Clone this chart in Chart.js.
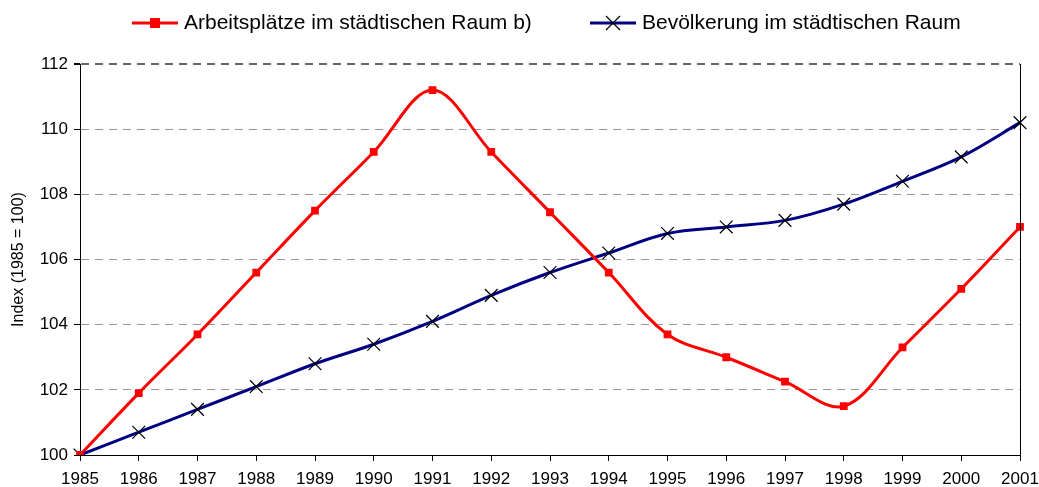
<!DOCTYPE html>
<html>
<head>
<meta charset="utf-8">
<script src="https://cdn.jsdelivr.net/npm/chart.js@4/dist/chart.umd.min.js"></script>
<style>
  html, body { margin: 0; padding: 0; background: #fff; }
  canvas { display: block; }
</style>
</head>
<body>
<canvas id="trendCanvas" width="1039" height="487"></canvas>
<script>
// Jahre und Indexwerte (1985 = 100)
const years = ["1985", "1986", "1987", "1988", "1989", "1990", "1991", "1992", "1993",
               "1994", "1995", "1996", "1997", "1998", "1999", "2000", "2001"];
const jobsUrban = [100, 101.9, 103.7, 105.6, 107.5, 109.3, 111.2, 109.3, 107.45,
                   105.6, 103.7, 103.0, 102.25, 101.5, 103.3, 105.1, 107.0];
const popUrban = [100, 100.7, 101.4, 102.1, 102.8, 103.4, 104.1, 104.9, 105.6,
                  106.2, 106.8, 107.0, 107.2, 107.7, 108.4, 109.15, 110.2];
const yTicks = [100, 102, 104, 106, 108, 110, 112];

const labelJobs = "Arbeitsplätze im städtischen Raum b)";
const labelPop = "Bevölkerung im städtischen Raum";
const FONT = "'Liberation Sans', Arial, sans-serif";

// eigene Legende oben + rechter Rahmen
const frameAndLegend = {
  id: "frameAndLegend",
  afterDraw(chart) {
    const ctx = chart.ctx;
    const a = chart.chartArea;
    ctx.save();
    ctx.strokeStyle = "#000";
    ctx.lineWidth = 1;
    ctx.beginPath();
    ctx.moveTo(Math.round(a.right) + 0.5, a.top);
    ctx.lineTo(Math.round(a.right) + 0.5, a.bottom);
    ctx.stroke();

    ctx.font = "21px " + FONT;
    ctx.textBaseline = "middle";
    ctx.fillStyle = "#000";
    const ly = 23;

    // Arbeitsplätze
    ctx.strokeStyle = "#ff0000";
    ctx.lineWidth = 3;
    ctx.beginPath(); ctx.moveTo(132, ly); ctx.lineTo(178, ly); ctx.stroke();
    ctx.fillStyle = "#ff0000";
    ctx.fillRect(150, ly - 5, 10, 10);
    ctx.fillStyle = "#000";
    ctx.fillText(labelJobs, 184, ly);

    // Bevölkerung
    ctx.strokeStyle = "#000080";
    ctx.lineWidth = 3;
    ctx.beginPath(); ctx.moveTo(590, ly); ctx.lineTo(636, ly); ctx.stroke();
    ctx.strokeStyle = "#000";
    ctx.lineWidth = 1.2;
    ctx.beginPath();
    ctx.moveTo(606, ly - 7); ctx.lineTo(620, ly + 7);
    ctx.moveTo(620, ly - 7); ctx.lineTo(606, ly + 7);
    ctx.stroke();
    ctx.fillText(labelPop, 642, ly);
    ctx.restore();
  }
};

new Chart(document.getElementById("trendCanvas").getContext("2d"), {
  type: "line",
  data: {
    labels: years,
    datasets: [{
      label: labelJobs,
      data: jobsUrban,
      borderColor: "#ff0000",
      backgroundColor: "#ff0000",
      borderWidth: 3,
      pointStyle: "rect",
      pointRadius: 5.5,
      pointBorderWidth: 0,
      tension: 0.35
    }, {
      label: labelPop,
      data: popUrban,
      borderColor: "#000080",
      backgroundColor: "#000",
      borderWidth: 3,
      pointStyle: "crossRot",
      pointRadius: 9,
      pointBorderColor: "#000",
      pointBorderWidth: 1.2,
      tension: 0.35
    }]
  },
  options: {
    responsive: false,
    animation: false,
    layout: { padding: { top: 64, right: 19, left: 0, bottom: 0 } },
    plugins: { legend: { display: false }, tooltip: { enabled: false } },
    scales: {
      x: {
        offset: false,
        afterFit(s) { s.height = 32; s.paddingLeft = 0; s.paddingRight = 0; },
        grid: { drawOnChartArea: false, drawTicks: true, tickLength: 6, color: "#000" },
        border: { color: "#000", width: 1 },
        ticks: { color: "#000", font: { family: FONT, size: 17 }, padding: 8, maxRotation: 0, autoSkip: false }
      },
      y: {
        min: 100,
        max: 112,
        afterFit(s) { s.width = 80; },
        afterBuildTicks(s) { s.ticks = yTicks.map(v => ({ value: v })); },
        grid: {
          color: (c) => c.tick && c.tick.value === 112 ? "#666" : "#999",
          lineWidth: (c) => c.tick && c.tick.value === 112 ? 2 : 1,
          drawTicks: true,
          tickLength: 6,
          tickColor: "#000"
        },
        border: { color: "#000", width: 1, dash: [8, 6] },
        ticks: { color: "#000", font: { family: FONT, size: 17 }, padding: 6 },
        title: { display: true, text: "Index (1985 = 100)", color: "#000", font: { family: FONT, size: 16 }, padding: { top: 9, bottom: 0 } }
      }
    }
  },
  plugins: [frameAndLegend]
});
</script>
</body>
</html>
